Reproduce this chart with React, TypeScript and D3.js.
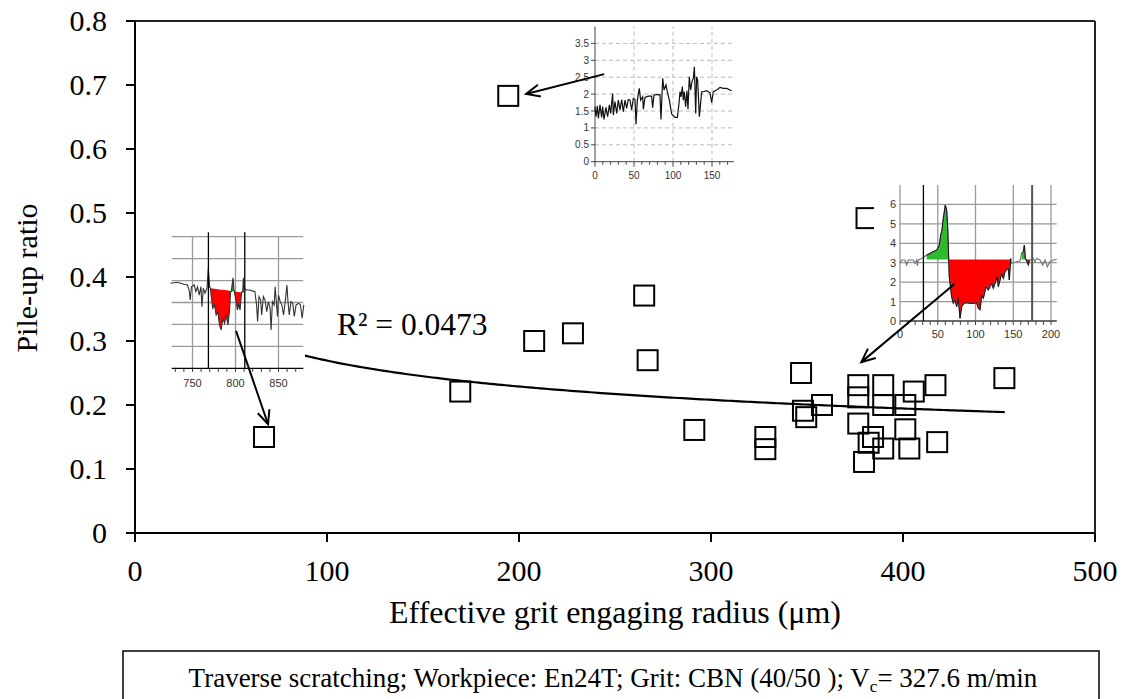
import React from "react";
import * as d3 from "d3";

// ---------- main chart data ----------
const radius = [67.2, 169.4, 194.4, 207.9, 228.1, 265.2, 267.0, 291.3, 328.3, 328.3,
  346.9, 347.9, 349.6, 357.8, 381.0, 376.7, 376.7, 376.7, 389.7, 389.7,
  401.2, 405.6, 416.9, 401.2, 403.3, 417.8, 389.7, 379.7, 384.4, 382.1, 452.8];
const pileUp = [0.150, 0.221, 0.683, 0.300, 0.312, 0.371, 0.270, 0.161, 0.150, 0.131,
  0.250, 0.191, 0.181, 0.200, 0.492, 0.231, 0.212, 0.171, 0.231, 0.200,
  0.200, 0.221, 0.231, 0.162, 0.132, 0.142, 0.132, 0.111, 0.150, 0.141, 0.242];
const xTicks = [0, 100, 200, 300, 400, 500];
const yTicks = [0, 0.1, 0.2, 0.3, 0.4, 0.5, 0.6, 0.7, 0.8];
const yTickLabels = ["0", "0.1", "0.2", "0.3", "0.4", "0.5", "0.6", "0.7", "0.8"];
// power trend fit y = a*x^b
const trendA = 0.795;
const trendB = -0.235;
const trendRange = [67, 453];
const r2Label = "R² = 0.0473";

// arrows (in main chart data units): [fromX, fromY, toX, toY]
const arrowFromX = [244.4, 426.8, 52.6];
const arrowFromY = [0.717, 0.389, 0.316];
const arrowToX = [203.7, 378.3, 69.3];
const arrowToY = [0.686, 0.267, 0.170];

// ---------- inset 1 (top) profile ----------
const topProfX = [0, 1.3, 3.0, 4.3, 6.4, 8.5, 9.8, 11.5, 14.1, 16.2,
  18.4, 20.1, 22.6, 23.5, 25.6, 27.8, 29.9, 32.1, 34.2, 36.3,
  38.5, 40.6, 42.7, 44.9, 47.0, 49.1, 51.3, 52.6, 54.3, 56.8,
  58.5, 61.1, 62.0, 64.1, 68.4, 72.6, 73.9, 75.6, 79.1, 83.3,
  84.6, 86.8, 88.5, 91.0, 92.7, 95.3, 98.3, 102.6, 105.6, 107.7,
  109.0, 110.3, 112.0, 113.2, 114.5, 116.2, 117.9, 119.2, 120.9, 122.6,
  124.4, 126.1, 127.4, 129.1, 130.3, 131.6, 133.8, 135.0, 136.8, 138.9,
  143.2, 147.4, 149.6, 151.7, 156.0, 160.3, 164.5, 168.8, 175.2];
const topProfY = [1.63, 1.33, 1.65, 1.28, 1.68, 1.31, 1.63, 1.25, 1.61, 1.33,
  1.68, 1.43, 2.02, 1.38, 1.78, 1.43, 1.82, 1.53, 1.84, 1.48,
  1.82, 1.58, 1.84, 1.82, 1.53, 1.87, 1.84, 1.11, 1.82, 2.17,
  1.82, 1.92, 1.55, 1.90, 1.94, 1.94, 1.60, 1.97, 1.99, 1.97,
  1.25, 2.47, 2.12, 2.27, 2.07, 1.82, 1.41, 1.31, 1.31, 1.73,
  2.07, 1.92, 2.22, 1.82, 2.07, 1.63, 2.10, 1.55, 2.51, 2.12,
  2.37, 2.47, 2.81, 1.43, 2.51, 2.42, 1.33, 1.63, 2.07, 2.07,
  2.10, 2.04, 1.75, 2.07, 2.12, 2.20, 2.17, 2.17, 2.10];
const topYTicks = [0, 0.5, 1, 1.5, 2, 2.5, 3, 3.5];
const topXTicks = [0, 50, 100, 150];

// ---------- inset 2 (right) profile ----------
const rightProfX = [0, 2.2, 6.6, 8.8, 11.0, 17.7, 19.9, 22.1, 23.0, 24.3,
  28.7, 30.9, 35.3, 39.7, 44.2, 48.6, 52.1, 53.9, 55.6, 57.4,
  60.0, 61.8, 63.1, 64.5, 65.3, 68.4, 70.6, 72.8, 75.1, 77.3,
  79.5, 81.7, 84.8, 88.3, 92.7, 97.1, 101.5, 103.8, 106.0, 108.2,
  110.4, 113.9, 117.0, 119.2, 121.4, 123.6, 125.8, 128.9, 130.2, 132.5,
  134.7, 136.9, 139.1, 141.3, 143.5, 144.8, 146.6, 147.9, 150.1, 154.5,
  158.9, 161.1, 163.4, 164.7, 166.0, 167.8, 170.0, 171.3, 174.4, 176.6,
  178.8, 181.0, 185.4, 189.0, 192.1, 195.1, 198.7, 203.1, 207.5];
const rightProfY = [2.97, 3.14, 3.14, 2.88, 3.14, 3.14, 2.97, 3.14, 2.83, 3.14,
  3.22, 3.27, 3.39, 3.48, 3.57, 3.65, 3.91, 4.42, 4.68, 5.28,
  5.97, 5.71, 4.85, 3.17, 2.28, 1.25, 0.91, 1.08, 0.74, 1.17,
  0.14, 0.74, 0.91, 0.94, 0.91, 0.91, 0.94, 0.65, 0.57, 1.34,
  1.17, 1.77, 1.59, 1.77, 1.94, 1.68, 1.94, 2.28, 1.77, 2.11,
  2.45, 2.19, 2.54, 2.62, 2.71, 2.11, 3.22, 2.97, 3.00, 3.05,
  3.09, 3.48, 3.57, 3.91, 3.22, 3.09, 2.88, 3.14, 3.14, 3.22,
  3.05, 3.22, 3.14, 2.88, 3.14, 2.79, 3.05, 3.14, 3.17];
const rightYTicks = [0, 1, 2, 3, 4, 5, 6];
const rightXTicks = [0, 50, 100, 150, 200];
const rightBase = 3.17;
const rightFillRanges = [[31, 147], [159, 173]];
const rightMarkers = [31, 175];

// ---------- inset 3 (left) profile ----------
const leftProfX = [724.5, 732.4, 740.2, 744.1, 746.1, 747.3, 748.8, 752.0, 753.9, 755.9,
  757.8, 759.8, 761.0, 762.5, 764.5, 766.9, 768.4, 770.0, 770.8, 771.6,
  773.5, 775.5, 777.5, 779.4, 781.4, 783.3, 785.3, 787.3, 789.2, 791.2,
  793.1, 794.3, 795.1, 797.1, 798.2, 799.8, 802.2, 803.7, 805.3, 806.9,
  808.4, 809.2, 810.0, 812.7, 816.7, 819.4, 822.5, 824.5, 825.7, 827.3,
  829.2, 830.4, 832.4, 834.3, 836.3, 838.2, 840.2, 841.4, 842.9, 844.9,
  846.1, 847.3, 848.8, 850.0, 852.0, 853.9, 855.9, 857.8, 859.8, 861.0,
  862.5, 864.5, 866.5, 868.4, 870.4, 873.5, 875.5, 877.5, 879.4];
const leftProfY = [3.88, 3.92, 3.83, 3.80, 3.57, 3.12, 3.72, 3.80, 3.50, 3.72,
  3.34, 3.72, 2.81, 3.65, 3.42, 3.65, 4.56, 3.72, 3.65, 3.34,
  2.74, 2.89, 2.43, 2.58, 1.98, 1.75, 2.28, 2.05, 2.43, 1.98,
  2.66, 3.50, 3.50, 4.13, 3.57, 3.27, 2.66, 2.89, 2.66, 3.42,
  3.57, 4.13, 3.65, 3.57, 3.57, 3.53, 3.50, 2.89, 2.13, 3.27,
  3.12, 2.43, 3.27, 3.12, 2.58, 3.04, 2.74, 1.75, 3.04, 2.89,
  3.72, 3.12, 2.36, 3.34, 3.04, 2.89, 2.43, 3.04, 3.80, 3.04,
  2.43, 3.04, 2.96, 2.36, 2.89, 2.96, 2.89, 2.28, 2.89];
const leftXTicks = [750, 800, 850];
const leftGridY = [1, 2, 3, 4, 5, 6];
const leftMarkers = [768.5, 810.8];
const leftFillRange = [767, 810.5];
const leftBaseStart = 3.66;
const leftBaseSlope = -0.0055;

const SERIF = "'Liberation Serif', 'Times New Roman', serif";
const SANS = "'Liberation Sans', Arial, sans-serif";

function arrowPath(x1: number, y1: number, x2: number, y2: number, len = 15, ang = 0.42) {
  const a = Math.atan2(y1 - y2, x1 - x2);
  return `M${x2 + len * Math.cos(a + ang)},${y2 + len * Math.sin(a + ang)}L${x2},${y2}L${x2 + len * Math.cos(a - ang)},${y2 + len * Math.sin(a - ang)}`;
}

function TopInset() {
  const sx = d3.scaleLinear().domain([0, 175]).range([595, 731.5]);
  const sy = d3.scaleLinear().domain([0, 4]).range([161.7, 26.5]);
  const pts = topProfX.map((v, i) => [v, topProfY[i]] as [number, number]);
  const line = d3.line<[number, number]>().x((d) => sx(d[0])).y((d) => sy(d[1]));
  const minor = d3.range(0, 180, 10);
  return (
    <g>
      <rect x={563} y={24} width={176} height={163} fill="#fff" />
      {topYTicks.filter((t) => t > 0).map((t) => (
        <line key={"gy" + t} x1={sx(0)} x2={sx(178)} y1={sy(t)} y2={sy(t)} stroke="#bbb" strokeDasharray="4,3" strokeWidth={1} />
      ))}
      {topXTicks.filter((t) => t > 0).map((t) => (
        <line key={"gx" + t} x1={sx(t)} x2={sx(t)} y1={sy(0)} y2={sy(4)} stroke="#bbb" strokeDasharray="4,3" strokeWidth={1} />
      ))}
      <line x1={sx(0)} x2={sx(0)} y1={sy(0)} y2={sy(4)} stroke="#444" strokeWidth={1} />
      <line x1={sx(0)} x2={sx(178)} y1={sy(0)} y2={sy(0)} stroke="#444" strokeWidth={1} />
      {topYTicks.map((t) => (
        <g key={"ty" + t}>
          <line x1={sx(0) - 4} x2={sx(0)} y1={sy(t)} y2={sy(t)} stroke="#444" />
          <text x={sx(0) - 6} y={sy(t) + 3.5} fontSize={10} fontFamily={SANS} fill="#333" textAnchor="end">{String(t)}</text>
        </g>
      ))}
      {minor.map((t) => (
        <line key={"tm" + t} x1={sx(t)} x2={sx(t)} y1={sy(0)} y2={sy(0) + (t % 50 === 0 ? 5 : 3)} stroke="#444" />
      ))}
      {topXTicks.map((t) => (
        <text key={"tx" + t} x={sx(t)} y={179} fontSize={10} fontFamily={SANS} fill="#333" textAnchor="middle">{String(t)}</text>
      ))}
      <path d={line(pts) || ""} fill="none" stroke="#111" strokeWidth={1.2} />
    </g>
  );
}

function RightInset() {
  const sx = d3.scaleLinear().domain([0, 200]).range([900, 1051]);
  const sy = d3.scaleLinear().domain([0, 7]).range([321, 185]);
  const pts = rightProfX.map((v, i) => [v, rightProfY[i]] as [number, number]);
  const line = d3.line<[number, number]>().x((d) => sx(d[0])).y((d) => sy(d[1]));
  const minor = d3.range(0, 210, 10);
  const fills = rightFillRanges.map((r) => pts.filter((p) => p[0] >= r[0] && p[0] <= r[1]));
  const green = d3.area<[number, number]>().x((d) => sx(d[0])).y0(sy(rightBase)).y1((d) => sy(Math.max(d[1], rightBase)));
  const red = d3.area<[number, number]>().x((d) => sx(d[0])).y0(sy(rightBase)).y1((d) => sy(Math.min(d[1], rightBase)));
  return (
    <g>
      <rect x={874} y={183} width={184} height={160} fill="#fff" />
      {rightYTicks.map((t) => (
        <line key={"gy" + t} x1={sx(0)} x2={sx(207.5)} y1={sy(t)} y2={sy(t)} stroke="#999" strokeWidth={1.3} />
      ))}
      {rightXTicks.map((t) => (
        <line key={"gx" + t} x1={sx(t)} x2={sx(t)} y1={sy(0)} y2={sy(7)} stroke="#999" strokeWidth={1.3} />
      ))}
      <line x1={sx(0)} x2={sx(207.5)} y1={sy(0)} y2={sy(0)} stroke="#555" strokeWidth={1.3} />
      {minor.map((t) => (
        <line key={"rm" + t} x1={sx(t)} x2={sx(t)} y1={sy(0)} y2={sy(0) + 4} stroke="#444" />
      ))}
      {rightYTicks.map((t) => (
        <text key={"ty" + t} x={sx(0) - 4} y={sy(t) + 4} fontSize={11} fontFamily={SANS} fill="#333" textAnchor="end">{String(t)}</text>
      ))}
      {rightXTicks.map((t) => (
        <text key={"tx" + t} x={sx(t)} y={338} fontSize={11} fontFamily={SANS} fill="#333" textAnchor="middle">{String(t)}</text>
      ))}
      {fills.map((f, i) => (
        <g key={"f" + i}>
          <path d={green(f) || ""} fill="#2dbb2d" />
          <path d={red(f) || ""} fill="#ff0000" />
        </g>
      ))}
      <path d={line(pts) || ""} fill="none" stroke="#777" strokeWidth={1.2} />
      {fills.map((f, i) => (
        <path key={"fl" + i} d={line(f) || ""} fill="none" stroke="#111" strokeWidth={1} />
      ))}
      <line x1={sx(rightMarkers[0])} x2={sx(rightMarkers[0])} y1={sy(0)} y2={sy(7)} stroke="#000" strokeWidth={1.3} />
      <line x1={sx(rightMarkers[1])} x2={sx(rightMarkers[1])} y1={sy(0)} y2={sy(7)} stroke="#555" strokeWidth={2} />
    </g>
  );
}

function LeftInset() {
  const sx = d3.scaleLinear().domain([750, 850]).range([192.5, 278.5]);
  const sy = d3.scaleLinear().domain([0, 6]).range([368.3, 236.7]);
  const base = (v: number) => leftBaseStart + (v - 770) * leftBaseSlope;
  const pts = leftProfX.map((v, i) => [v, leftProfY[i]] as [number, number]);
  const line = d3.line<[number, number]>().x((d) => sx(d[0])).y((d) => sy(d[1]));
  const fill = pts.filter((p) => p[0] >= leftFillRange[0] && p[0] <= leftFillRange[1]);
  const green = d3.area<[number, number]>().x((d) => sx(d[0])).y0((d) => sy(base(d[0]))).y1((d) => sy(Math.max(d[1], base(d[0]))));
  const red = d3.area<[number, number]>().x((d) => sx(d[0])).y0((d) => sy(base(d[0]))).y1((d) => sy(Math.min(d[1], base(d[0]))));
  const minor = d3.range(730, 880, 10);
  return (
    <g>
      <rect x={170} y={232} width={135} height={160} fill="#fff" />
      {leftGridY.map((t) => (
        <line key={"gy" + t} x1={171.7} x2={303.3} y1={sy(t)} y2={sy(t)} stroke="#999" strokeWidth={1.3} />
      ))}
      {leftXTicks.map((t) => (
        <line key={"gx" + t} x1={sx(t)} x2={sx(t)} y1={sy(0)} y2={sy(6)} stroke="#999" strokeWidth={1.3} />
      ))}
      <line x1={171.7} x2={303.3} y1={sy(0)} y2={sy(0)} stroke="#000" strokeWidth={1.3} />
      {minor.map((t) => (
        <line key={"lm" + t} x1={sx(t)} x2={sx(t)} y1={sy(0)} y2={sy(0) + 3.5} stroke="#333" />
      ))}
      {leftXTicks.map((t) => (
        <text key={"tx" + t} x={sx(t)} y={387} fontSize={11} fontFamily={SANS} fill="#333" textAnchor="middle">{String(t)}</text>
      ))}
      <path d={green(fill) || ""} fill="#1a9a1a" />
      <path d={red(fill) || ""} fill="#ff0000" />
      <path d={line(pts) || ""} fill="none" stroke="#333" strokeWidth={1.1} />
      {leftMarkers.map((m) => (
        <line key={"mk" + m} x1={sx(m)} x2={sx(m)} y1={sy(0)} y2={sy(6.2)} stroke="#000" strokeWidth={1.3} />
      ))}
    </g>
  );
}

export default function App() {
  const W = 1128;
  const H = 699;
  const x = d3.scaleLinear().domain([0, 500]).range([135, 1095]);
  const y = d3.scaleLinear().domain([0, 0.8]).range([533, 21]);
  const trendX = d3.range(trendRange[0], trendRange[1] + 0.1, 2);
  const trendLine = d3
    .line<number>()
    .x((d) => x(d))
    .y((d) => y(trendA * Math.pow(d, trendB)));
  const sq = 20;

  return (
    <svg width={W} height={H} style={{ position: "absolute", left: 0, top: 0, background: "#fff" }}>
      <rect x={0} y={0} width={W} height={H} fill="#fff" />
      {/* plot frame */}
      <line x1={x(0)} x2={x(500)} y1={y(0.8)} y2={y(0.8)} stroke="#222" strokeWidth={2} />
      <line x1={x(500)} x2={x(500)} y1={y(0.8)} y2={y(0)} stroke="#222" strokeWidth={2} />

      {/* trend line */}
      <path d={trendLine(trendX) || ""} fill="none" stroke="#000" strokeWidth={2.2} />

      {/* data points */}
      {radius.map((r, i) => (
        <rect key={"p" + i} x={x(r) - sq / 2} y={y(pileUp[i]) - sq / 2} width={sq} height={sq} fill="none" stroke="#000" strokeWidth={2} />
      ))}

      {/* insets */}
      <TopInset />
      <RightInset />
      <LeftInset />

      {/* arrows */}
      {arrowFromX.map((fx, i) => {
        const x1 = x(fx), y1 = y(arrowFromY[i]), x2 = x(arrowToX[i]), y2 = y(arrowToY[i]);
        return (
          <g key={"a" + i}>
            <line x1={x1} y1={y1} x2={x2} y2={y2} stroke="#000" strokeWidth={2} />
            <path d={arrowPath(x1, y1, x2, y2)} fill="none" stroke="#000" strokeWidth={2} />
          </g>
        );
      })}

      {/* axes */}
      <line x1={x(0)} x2={x(0)} y1={y(0)} y2={y(0.8)} stroke="#000" strokeWidth={2} />
      <line x1={x(0)} x2={x(500)} y1={y(0)} y2={y(0)} stroke="#000" strokeWidth={2} />
      {yTicks.map((t, i) => (
        <g key={"yt" + i}>
          <line x1={x(0) - 9} x2={x(0)} y1={y(t)} y2={y(t)} stroke="#000" strokeWidth={2} />
          <text x={107} y={y(t) + 10} fontSize={30} fontFamily={SERIF} textAnchor="end" fill="#000">{yTickLabels[i]}</text>
        </g>
      ))}
      {xTicks.map((t) => (
        <g key={"xt" + t}>
          <line x1={x(t)} x2={x(t)} y1={y(0)} y2={y(0) + 9} stroke="#000" strokeWidth={2} />
          <text x={x(t)} y={581} fontSize={30} fontFamily={SERIF} textAnchor="middle" fill="#000">{String(t)}</text>
        </g>
      ))}

      {/* axis titles */}
      <text x={615} y={623} fontSize={32} fontFamily={SERIF} textAnchor="middle" fill="#000">Effective grit engaging radius (μm)</text>
      <text transform="translate(37,278) rotate(-90)" fontSize={30} fontFamily={SERIF} textAnchor="middle" fill="#000">Pile-up ratio</text>

      {/* R² label */}
      <text x={337} y={335} fontSize={31.5} fontFamily={SERIF} fill="#000">{r2Label}</text>

      {/* caption box */}
      <rect x={123} y={651} width={976} height={70} fill="none" stroke="#000" strokeWidth={1.5} />
      <text x={613} y={687} fontSize={27} fontFamily={SERIF} textAnchor="middle" fill="#000">
        Traverse scratching; Workpiece: En24T; Grit: CBN (40/50 ); V
        <tspan fontSize={17} dy={5}>c</tspan>
        <tspan dy={-5}>= 327.6 m/min</tspan>
      </text>
    </svg>
  );
}
